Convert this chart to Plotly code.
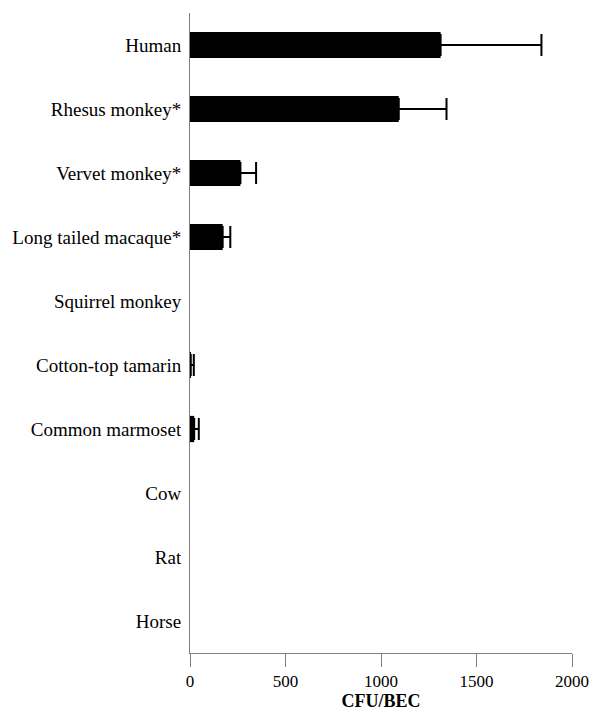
import plotly.graph_objects as go

species = ["Human", "Rhesus monkey*", "Vervet monkey*", "Long tailed macaque*",
           "Squirrel monkey", "Cotton-top tamarin", "Common marmoset", "Cow", "Rat", "Horse"]
cfu_bec = [1312, 1093, 264, 171, 0, 4, 22, 0, 0, 0]
cfu_err = [528, 250, 82, 40, None, 16, 24, None, None, None]
x_ticks = [0, 500, 1000, 1500, 2000]

# zero values produce no visible bar in the reference
bar_vals = [v if v else None for v in cfu_bec]

fig = go.Figure(go.Bar(
    y=species, x=bar_vals, orientation="h",
    marker=dict(color="black", line=dict(width=0)),
    error_x=dict(type="data", array=cfu_err, symmetric=False,
                 arrayminus=[0] * len(cfu_err),
                 color="black", thickness=2, width=11),
))

font = "Liberation Serif, Times New Roman, serif"
fig.update_layout(
    width=591, height=713,
    margin=dict(l=190, r=19, t=13, b=60, autoexpand=False),
    plot_bgcolor="white", paper_bgcolor="white",
    bargap=0.59, showlegend=False,
    font=dict(family=font, color="black"),
)
fig.update_xaxes(
    range=[0, 2000], tickvals=x_ticks, ticks="outside", ticklen=13,
    tickcolor="#808080", showline=True, linecolor="#808080", linewidth=1,
    showgrid=False, zeroline=False, tickfont=dict(size=17, family=font),
    title=dict(text="<b>CFU/BEC</b>", font=dict(size=18, family=font), standoff=2),
    automargin=False,
)
fig.update_yaxes(
    type="category", categoryorder="array", categoryarray=species,
    autorange="reversed", showline=True, linecolor="#808080", linewidth=1,
    ticks="", showgrid=False, zeroline=False, tickfont=dict(size=19, family=font),
    ticklabelstandoff=4, automargin=False,
)
fig.write_html("out.html", config={"displayModeBar": False},
               post_script="document.body.style.margin='0';")
